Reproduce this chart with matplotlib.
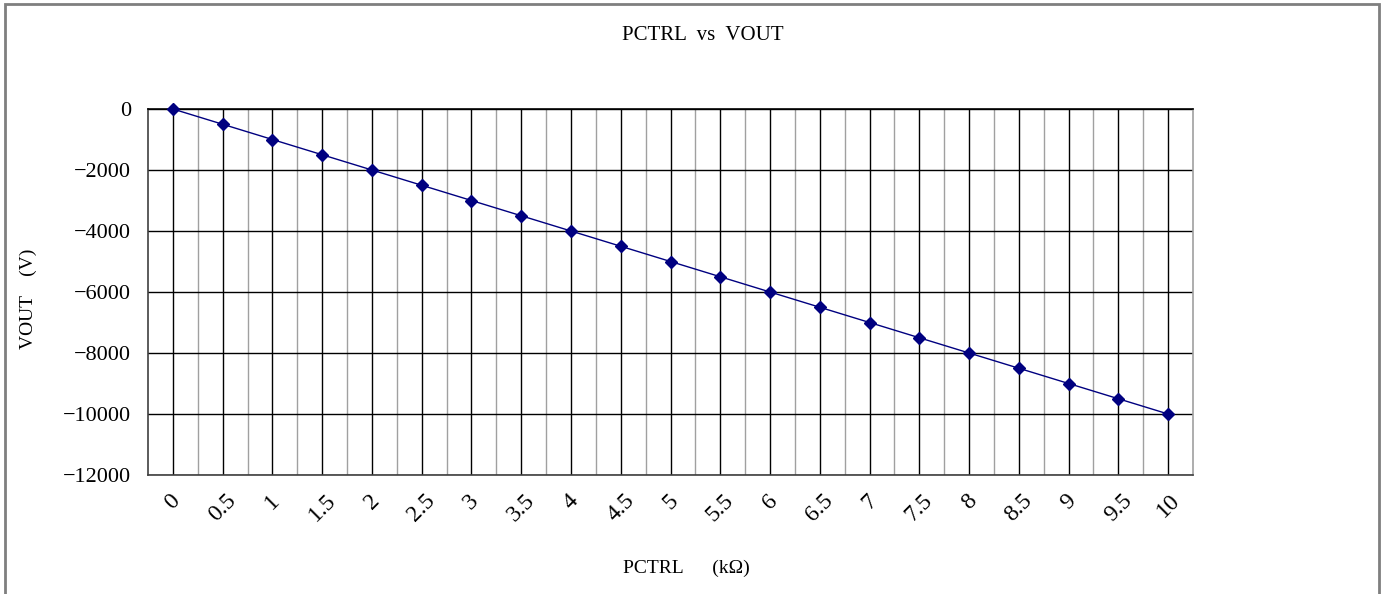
import matplotlib
matplotlib.use("Agg")
import matplotlib.pyplot as plt
from matplotlib.patches import Rectangle
from matplotlib.ticker import FixedLocator

# данные графика
pctrl_labels = ["0", "0.5", "1", "1.5", "2", "2.5", "3", "3.5", "4", "4.5", "5",
                "5.5", "6", "6.5", "7", "7.5", "8", "8.5", "9", "9.5", "10"]
vout = [0, -500, -1000, -1500, -2000, -2500, -3000, -3500, -4000, -4500, -5000,
        -5500, -6000, -6500, -7000, -7500, -8000, -8500, -9000, -9500, -10000]
y_ticks = [0, -2000, -4000, -6000, -8000, -10000, -12000]

plt.rcParams['font.family'] = ['Liberation Serif', 'DejaVu Serif']

W, H = 1382, 594
fig = plt.figure(figsize=(W / 100, H / 100), dpi=100)

# рамка вокруг всей картинки
fig.patches.append(Rectangle((5 / W, -0.01), (1379 - 5) / W, 1.01 - 4 / H,
                             transform=fig.transFigure, fill=False,
                             edgecolor='#7f7f7f', linewidth=2))

left, right, top, bottom = 148, 1193, 109, 475
ax = fig.add_axes([left / W, 1 - bottom / H, (right - left) / W, (bottom - top) / H])

pos = list(range(len(pctrl_labels)))
ax.plot(pos, vout, color='#000080', linewidth=1, marker='D', markersize=6,
        zorder=5, clip_on=False)

ax.set_xlim(-0.5, len(pos) - 0.5)
ax.set_ylim(-12000, 0)

# сетка: чёрные линии по категориям, серые между ними
ax.xaxis.set_major_locator(FixedLocator(pos))
ax.xaxis.set_minor_locator(FixedLocator([p + 0.5 for p in pos[:-1]]))
ax.set_xticks(pos)
ax.set_xticklabels(pctrl_labels, rotation=45, ha='center', va='top')
ax.set_yticks(y_ticks)
ax.set_yticklabels([str(v).replace('-', '\u2212') for v in y_ticks])

ax.grid(True, which='major', axis='x', color='black', linewidth=1)
ax.grid(True, which='minor', axis='x', color='#a0a0a0', linewidth=1)
ax.grid(True, which='major', axis='y', color='black', linewidth=1)
ax.set_axisbelow(True)

ax.tick_params(axis='both', which='both', length=0, pad=12)
ax.tick_params(axis='y', labelsize=16)
ax.tick_params(axis='x', labelsize=17, pad=11)

for side in ['left', 'bottom']:
    ax.spines[side].set_color('#404040')
ax.spines['top'].set_color('black')
ax.spines['right'].set_color('#a0a0a0')
for s in ax.spines.values():
    s.set_linewidth(1.2)

fig.text(703 / W, 1 - 35 / H, "PCTRL  vs  VOUT", ha='center', va='center', fontsize=15)
fig.text(686 / W, 1 - 568 / H, "PCTRL      (k\u03a9)", ha='center', va='center', fontsize=14)
fig.text(28 / W, 1 - 299 / H, "VOUT    (V)", ha='center', va='center', fontsize=14, rotation=90)

fig.savefig("out.png", dpi=100)
